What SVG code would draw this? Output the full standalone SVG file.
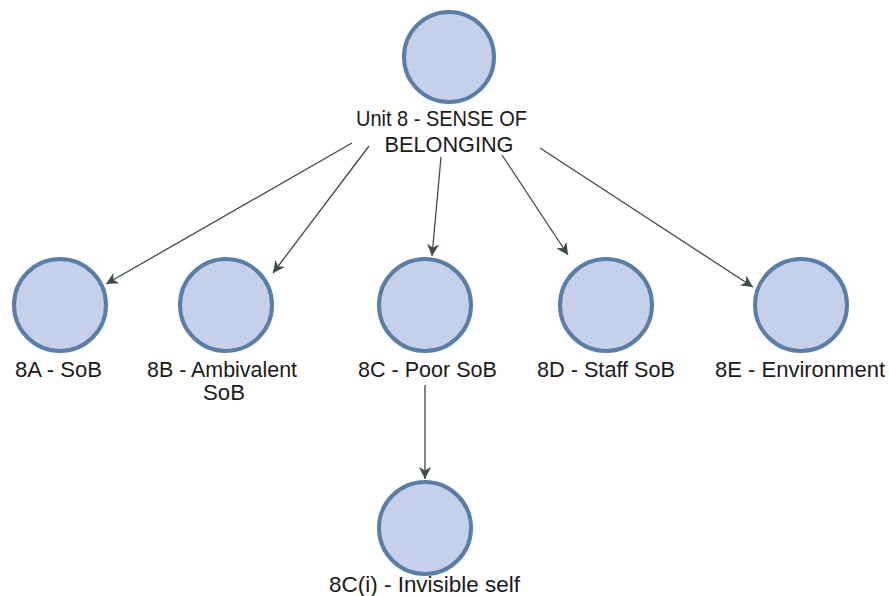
<svg xmlns="http://www.w3.org/2000/svg" width="889" height="596" viewBox="0 0 889 596">
  <defs>
    <marker id="arrow" viewBox="0 0 10 10" refX="10" refY="5" markerWidth="12" markerHeight="12" markerUnits="userSpaceOnUse" orient="auto">
      <path d="M0,0 L10,5 L0,10 L3,5 Z" fill="#3d4a4a"/>
    </marker>
  </defs>
  <style>
    .node { fill: #c6d0ea; stroke: #5a7ea6; stroke-width: 4; }
    .label { font-family: "Liberation Sans", Arial, sans-serif; font-size: 21.5px; fill: #1a1a1a; text-anchor: middle; }
    .edge { stroke: #3d4a4a; stroke-width: 1.3; fill: none; marker-end: url(#arrow); }
  </style>
  <rect width="889" height="596" fill="#ffffff"/>
  <g id="edges">
    <line class="edge" x1="352" y1="143" x2="106" y2="284"/>
    <line class="edge" x1="369" y1="146" x2="273" y2="273"/>
    <line class="edge" x1="441" y1="157" x2="432" y2="256"/>
    <line class="edge" x1="502" y1="155" x2="568" y2="255"/>
    <line class="edge" x1="540" y1="148" x2="753" y2="287"/>
    <line class="edge" x1="425" y1="385" x2="425" y2="479"/>
  </g>
  <g id="unit8">
    <circle class="node" cx="449" cy="57" r="45"/>
    <text class="label" x="441.5" y="126" textLength="171" lengthAdjust="spacingAndGlyphs">Unit 8 - SENSE OF</text>
    <text class="label" x="449" y="152" textLength="129" lengthAdjust="spacingAndGlyphs">BELONGING</text>
  </g>
  <g id="n8a">
    <circle class="node" cx="60" cy="305" r="46"/>
    <text class="label" x="58.5" y="377" textLength="87" lengthAdjust="spacingAndGlyphs">8A - SoB</text>
  </g>
  <g id="n8b">
    <circle class="node" cx="226" cy="305" r="46"/>
    <text class="label" x="222" y="377" textLength="150" lengthAdjust="spacingAndGlyphs">8B - Ambivalent</text>
    <text class="label" x="224" y="400" textLength="42" lengthAdjust="spacingAndGlyphs">SoB</text>
  </g>
  <g id="n8c">
    <circle class="node" cx="425" cy="305" r="46"/>
    <text class="label" x="427.5" y="377" textLength="139" lengthAdjust="spacingAndGlyphs">8C - Poor SoB</text>
  </g>
  <g id="n8d">
    <circle class="node" cx="606" cy="305" r="46"/>
    <text class="label" x="606" y="377" textLength="138" lengthAdjust="spacingAndGlyphs">8D - Staff SoB</text>
  </g>
  <g id="n8e">
    <circle class="node" cx="801" cy="305" r="46"/>
    <text class="label" x="800" y="377" textLength="170" lengthAdjust="spacingAndGlyphs">8E - Environment</text>
  </g>
  <g id="n8ci">
    <circle class="node" cx="425" cy="528" r="46"/>
    <text class="label" x="424.5" y="592" textLength="191" lengthAdjust="spacingAndGlyphs">8C(i) - Invisible self</text>
  </g>
</svg>
